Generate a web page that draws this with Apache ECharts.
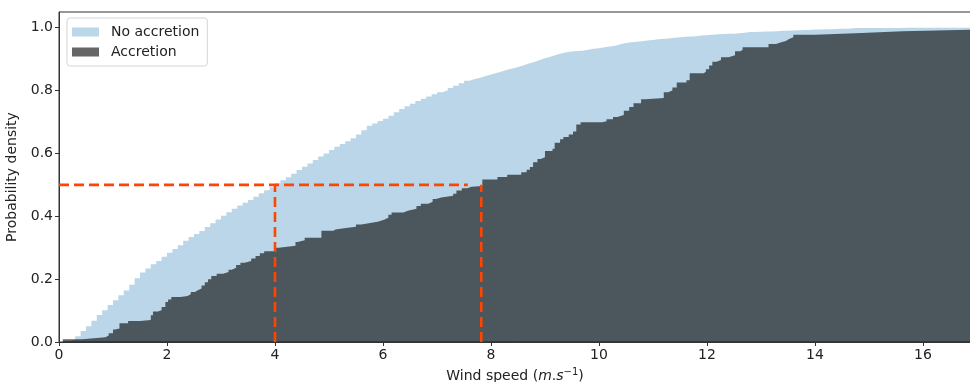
<!DOCTYPE html>
<html>
<head>
<meta charset="utf-8">
<script src="https://cdn.jsdelivr.net/npm/echarts@6/dist/echarts.min.js"></script>
<style>
  html, body { margin: 0; padding: 0; background: #fff; }
  #chart { width: 970px; height: 382px; }
</style>
</head>
<body>
<div id="chart"></div>
<script>
// cumulative share per 0.1 m/s bin, no accretion
const binWidth = 0.1
const noAccretion = [
  0.000, 0.002, 0.008, 0.018, 0.035, 0.050, 0.068, 0.086, 0.101, 0.118,
  0.133, 0.149, 0.164, 0.182, 0.203, 0.221, 0.234, 0.247, 0.258, 0.271,
  0.284, 0.296, 0.308, 0.322, 0.334, 0.344, 0.353, 0.366, 0.378, 0.390,
  0.402, 0.413, 0.424, 0.434, 0.443, 0.452, 0.462, 0.473, 0.483, 0.492,
  0.505, 0.515, 0.524, 0.535, 0.547, 0.558, 0.568, 0.579, 0.590, 0.600,
  0.611, 0.621, 0.630, 0.639, 0.648, 0.660, 0.674, 0.688, 0.695, 0.703,
  0.710, 0.720, 0.731, 0.741, 0.750, 0.758, 0.767, 0.774, 0.781, 0.788,
  0.795, 0.801, 0.808, 0.815, 0.823, 0.831, 0.837, 0.841, 0.846, 0.851,
  0.856, 0.861, 0.866, 0.870, 0.875, 0.880, 0.886, 0.891, 0.897, 0.903,
  0.908, 0.913, 0.918, 0.922, 0.924, 0.926, 0.927, 0.930, 0.933, 0.935,
  0.938, 0.940, 0.943, 0.947, 0.951, 0.954, 0.955, 0.957, 0.959, 0.961,
  0.963, 0.965, 0.966, 0.968, 0.970, 0.971, 0.972, 0.973, 0.975, 0.976,
  0.978, 0.979, 0.980, 0.981, 0.981, 0.982, 0.984, 0.986, 0.986, 0.987,
  0.988, 0.988, 0.989, 0.990, 0.990, 0.991, 0.992, 0.993, 0.993, 0.994,
  0.994, 0.995, 0.995, 0.996, 0.997, 0.997, 0.998, 0.999, 0.999, 0.999,
  0.999, 0.999, 0.999, 0.999, 0.999, 0.999, 1.000, 1.000, 1.000, 1.000,
  1.000, 1.000, 1.000, 1.000, 1.000, 1.000, 1.000, 1.000, 1.000
]

// accretion: wind speed where each step starts, and its level
const accretionX = [
  0.00, 0.07, 0.43, 0.86, 0.92, 1.00, 1.04, 1.12, 1.28, 1.50,
  1.70, 1.74, 1.83, 1.90, 1.97, 2.02, 2.08, 2.25, 2.38, 2.44,
  2.52, 2.57, 2.64, 2.70, 2.76, 2.82, 2.92, 3.04, 3.14, 3.20,
  3.28, 3.36, 3.44, 3.56, 3.64, 3.72, 3.80, 4.02, 4.07, 4.38,
  4.42, 4.55, 4.86, 5.08, 5.12, 5.28, 5.50, 5.60, 5.76, 5.90,
  6.02, 6.10, 6.16, 6.38, 6.46, 6.62, 6.70, 6.84, 6.92, 6.98,
  7.08, 7.30, 7.36, 7.46, 7.56, 7.64, 7.84, 8.12, 8.30, 8.56,
  8.66, 8.72, 8.78, 8.86, 8.92, 9.00, 9.14, 9.18, 9.28, 9.34,
  9.44, 9.52, 9.58, 9.66, 10.06, 10.14, 10.26, 10.34, 10.46, 10.56,
  10.64, 10.78, 10.86, 11.20, 11.28, 11.36, 11.44, 11.62, 11.68, 11.94,
  11.98, 12.04, 12.10, 12.18, 12.26, 12.40, 12.52, 12.62, 12.66, 13.14,
  13.28, 13.36, 13.46, 13.52, 13.60, 14.00, 14.86, 15.62
]
const accretionY = [
  0.000, 0.009, 0.015, 0.021, 0.028, 0.040, 0.043, 0.060, 0.067, 0.070,
  0.085, 0.097, 0.101, 0.111, 0.127, 0.135, 0.143, 0.146, 0.152, 0.159,
  0.165, 0.170, 0.180, 0.190, 0.200, 0.210, 0.217, 0.223, 0.230, 0.236,
  0.245, 0.252, 0.258, 0.266, 0.274, 0.282, 0.289, 0.300, 0.306, 0.318,
  0.324, 0.332, 0.354, 0.358, 0.362, 0.367, 0.374, 0.379, 0.383, 0.389,
  0.395, 0.405, 0.412, 0.418, 0.424, 0.433, 0.440, 0.446, 0.455, 0.460,
  0.465, 0.472, 0.482, 0.489, 0.494, 0.496, 0.517, 0.525, 0.532, 0.540,
  0.548, 0.557, 0.572, 0.582, 0.588, 0.608, 0.615, 0.634, 0.645, 0.652,
  0.660, 0.670, 0.692, 0.699, 0.702, 0.709, 0.716, 0.722, 0.736, 0.748,
  0.760, 0.772, 0.776, 0.795, 0.800, 0.810, 0.826, 0.833, 0.855, 0.860,
  0.868, 0.880, 0.892, 0.897, 0.906, 0.912, 0.925, 0.930, 0.938, 0.948,
  0.953, 0.958, 0.964, 0.970, 0.978, 0.983, 0.989, 0.994
]

// guide lines: 50 % level and the two medians
const halfLevel = 0.5
const halfLineEnd = 7.57
const medianNoAccretion = 4.0
const medianAccretion = 7.82

const xTicks = [0, 2, 4, 6, 8, 10, 12, 14, 16]
const yTicks = [0, 0.2, 0.4, 0.6, 0.8, 1.0]
const xMax = 16.89
const yMax = 1.05

const font = 'DejaVu Sans'
const red = '#ff4500'

const blueData = noAccretion.map((v, i) => [+(i * binWidth).toFixed(2), v])
blueData.push([+(noAccretion.length * binWidth).toFixed(2), noAccretion[noAccretion.length - 1]])
const darkData = accretionX.map((x, i) => [x, accretionY[i]])
darkData.push([xMax + 0.1, accretionY[accretionY.length - 1]])

const dashed = (data) => ({
  type: 'line',
  data,
  symbol: 'none',
  silent: true,
  z: 5,
  lineStyle: { color: red, width: 2.6, type: [10, 5] },
})

var myChart = echarts.init(document.getElementById('chart'), null, { renderer: 'canvas' })
const option = {
  animation: false,
  textStyle: { fontFamily: font },
  grid: {
    left: 59,
    right: -1,
    top: 12,
    bottom: 40,
    containLabel: false,
    outerBoundsMode: 'none',
    show: true,
    borderColor: '#333',
    borderWidth: 1,
  },
  legend: {
    left: 67,
    top: 18,
    orient: 'vertical',
    itemWidth: 27,
    itemHeight: 9,
    itemGap: 4,
    padding: [6, 8, 6, 5],
    backgroundColor: 'rgba(255,255,255,0.85)',
    borderColor: '#d5d5d5',
    borderWidth: 1,
    borderRadius: 3,
    textStyle: { fontFamily: font, fontSize: 14, color: '#222', lineHeight: 16, padding: [0, 0, 0, 7] },
    data: [
      { name: 'No accretion', icon: 'rect' },
      { name: 'Accretion', icon: 'rect' },
    ],
  },
  xAxis: {
    type: 'value',
    min: 0,
    max: xMax,
    name: 'Wind speed ({i|m}.{i|s}{sup|−1})',
    nameLocation: 'middle',
    nameGap: 25,
    nameTextStyle: {
      fontFamily: font,
      fontSize: 14,
      color: '#222',
      rich: {
        i: { fontFamily: font, fontSize: 14, fontStyle: 'italic', color: '#222' },
        sup: { fontFamily: font, fontSize: 10, color: '#222', padding: [0, 0, 8, 0] },
      },
    },
    splitLine: { show: false },
    axisLine: { show: true, onZero: false, lineStyle: { color: '#333' } },
    axisTick: { show: true, length: 4, lineStyle: { color: '#333' }, customValues: xTicks },
    axisLabel: { fontFamily: font, fontSize: 14, color: '#222', margin: 6, customValues: xTicks },
  },
  yAxis: {
    type: 'value',
    min: 0,
    max: yMax,
    name: 'Probability density',
    nameLocation: 'middle',
    nameGap: 35,
    nameTextStyle: { fontFamily: font, fontSize: 14, color: '#222' },
    splitLine: { show: false },
    axisLine: { show: true, lineStyle: { color: '#333' } },
    axisTick: { show: true, length: 4, lineStyle: { color: '#333' }, customValues: yTicks },
    axisLabel: {
      fontFamily: font,
      fontSize: 14,
      color: '#222',
      margin: 6,
      customValues: yTicks,
      formatter: (v) => v.toFixed(1),
    },
  },
  series: [
    {
      name: 'No accretion',
      type: 'line',
      step: 'end',
      data: blueData,
      symbol: 'none',
      color: 'rgba(31,119,180,0.3)',
      lineStyle: { width: 0 },
      areaStyle: { color: 'rgba(31,119,180,0.3)', opacity: 1 },
    },
    {
      name: 'Accretion',
      type: 'line',
      step: 'end',
      data: darkData,
      symbol: 'none',
      color: 'rgba(0,0,0,0.6)',
      lineStyle: { width: 0 },
      areaStyle: { color: 'rgba(0,0,0,0.6)', opacity: 1 },
    },
    dashed([[0, halfLevel], [halfLineEnd, halfLevel]]),
    dashed([[medianNoAccretion, 0], [medianNoAccretion, halfLevel]]),
    dashed([[medianAccretion, 0], [medianAccretion, halfLevel]]),
  ],
}
myChart.setOption(option)
</script>
</body>
</html>
